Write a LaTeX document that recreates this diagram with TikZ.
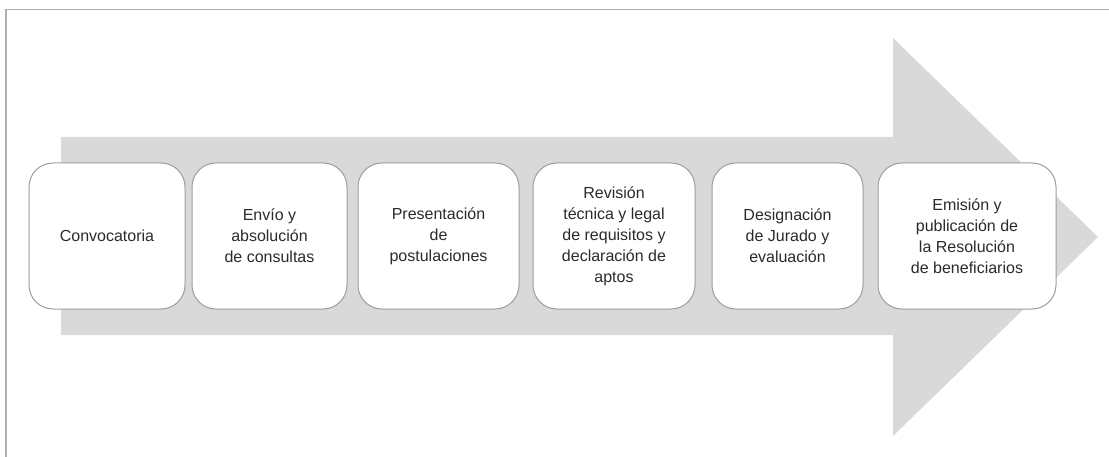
\documentclass[tikz,border=0pt]{standalone}
\usepackage{fontspec}
\setmainfont{Liberation Sans}
\definecolor{arrowgray}{HTML}{D9D9D9}
\definecolor{framegray}{HTML}{B0B0B0}
\definecolor{boxline}{HTML}{9E9E9E}
\definecolor{textgray}{HTML}{2B2B2B}
\tikzset{
  stagebox/.style={draw=boxline, line width=1pt, fill=white, rounded corners=24pt,
    align=center, inner sep=0pt, text=textgray,
    font=\fontsize{16}{21}\selectfont},
}
\begin{document}
\begin{tikzpicture}[x=1pt,y=-1pt]
\useasboundingbox (0,0) rectangle (1109,457);
% frame
\draw[framegray, line width=1.6pt] (6,457) -- (6,9.5) -- (1109,9.5);
% big arrow
\fill[arrowgray] (61,137) -- (893,137) -- (893,38) -- (1098,237) -- (893,436) -- (893,335) -- (61,335) -- cycle;
% stages
\newcommand{\stage}[4]{%
  \node[stagebox, minimum width={#2-#1}, minimum height=146pt] (#3) at ({(#1+#2)/2},236) {#4};}
\stage{29}{185}{b1}{Convocatoria}
\stage{192}{347}{b2}{Envío y\\absolución\\de consultas}
\stage{358}{519}{b3}{Presentación\\de\\postulaciones}
\stage{533}{695}{b4}{Revisión\\técnica y legal\\de requisitos y\\declaración de\\aptos}
\stage{712}{863}{b5}{Designación\\de Jurado y\\evaluación}
\stage{878}{1056}{b6}{Emisión y\\publicación de\\la Resolución\\de beneficiarios}
\end{tikzpicture}
\end{document}
